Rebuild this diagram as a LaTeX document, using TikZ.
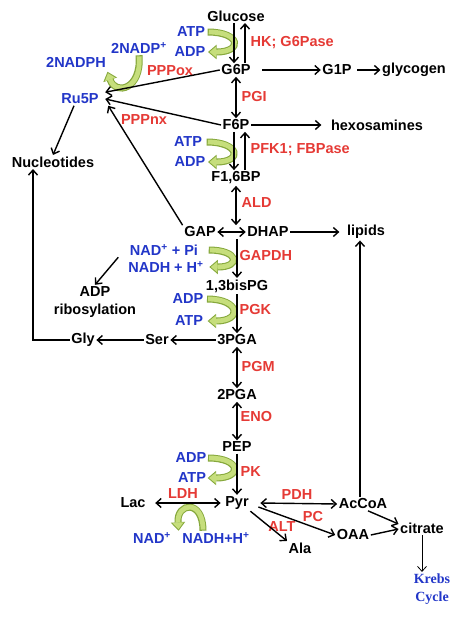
\documentclass[tikz,border=0pt]{standalone}
\usepackage{fontspec}
\setmainfont{Liberation Sans}
\newfontfamily\krebsfont{Liberation Serif}
\usepackage{xcolor}
\usetikzlibrary{arrows.meta}
\definecolor{enzred}{HTML}{E53A35}
\definecolor{cofblue}{HTML}{2236C8}
\definecolor{leafgreen}{HTML}{C6DE7C}
\definecolor{leafedge}{HTML}{86A83C}
\tikzset{
  met/.style={font=\bfseries\fontsize{14.5}{18}\selectfont, inner sep=1.5pt},
  enz/.style={met, text=enzred},
  cof/.style={met, text=cofblue},
  flow/.style={line width=1.4pt, ->},
  leafout/.style={draw=leafedge, line width=7pt, -{Triangle[length=8.5pt,width=14.5pt,line width=0pt]}},
  leafin/.style={draw=leafgreen, line width=4.8pt, shorten <=1.1pt, shorten >=1.5pt, -{Triangle[length=6.6pt,width=11pt,line width=0pt]}},
}
\newcommand{\leafarrow}[1]{\draw[leafout] #1; \draw[leafin] #1;}

\begin{document}
\begin{tikzpicture}[x=1pt, y=-1pt, >={Straight Barb[length=5pt,width=9pt]}]
\useasboundingbox (0,0) rectangle (468,626);

\node[met] (glucose) at (236,16) {Glucose};
\node[met] (g6p) at (236,70) {G6P};
\node[met] (g1p) at (337,70) {G1P};
\node[met] (glycogen) at (414,70) {glycogen};
\node[met] (f6p) at (236,125) {F6P};
\node[met] (hexos) at (377,125) {hexosamines};
\node[met] (f16bp) at (236,178) {F1,6BP};
\node[met] (gap) at (200,232) {GAP};
\node[met] (dhap) at (268,232) {DHAP};
\node[met] (lipids) at (366,232) {lipids};
\node[met] (bpg) at (237,286) {1,3bisPG};
\node[met] (pga3) at (237,340) {3PGA};
\node[met] (ser) at (157,340) {Ser};
\node[met] (gly) at (83,340) {Gly};
\node[met] (pga2) at (237,395) {2PGA};
\node[met] (pep) at (237,447) {PEP};
\node[met] (pyr) at (237,503) {Pyr};
\node[met] (lac) at (133,503) {Lac};
\node[met] (accoa) at (363,504) {AcCoA};
\node[met] (oaa) at (353,535) {OAA};
\node[met] (citrate) at (422,528) {citrate};
\node[met] (ala) at (300,548) {Ala};
\node[met] (nucl) at (53,162) {Nucleotides};
\node[met, align=center] (adprib) at (95,302) {ADP\\ribosylation};
\node[cof] (ru5p) at (80,99) {Ru5P};
\node[font=\krebsfont\bfseries\fontsize{14}{18}\selectfont, text=cofblue, align=center, inner sep=1.5pt] (krebs) at (432,589) {Krebs\\Cycle};

\node[cof] (atp1) at (191,32) {ATP};
\node[cof] (adp1) at (190,52) {ADP};
\node[cof] (nadp) at (139,48) {2NADP\textsuperscript{+}};
\node[cof] (nadph) at (76,62) {2NADPH};
\node[cof] (atp2) at (188,142) {ATP};
\node[cof] (adp2) at (190,162) {ADP};
\node[cof] (nadpi) at (164,250) {NAD\textsuperscript{+} + Pi};
\node[cof] (nadh) at (166,267) {NADH + H\textsuperscript{+}};
\node[cof] (adp3) at (188,299) {ADP};
\node[cof] (atp3) at (189,321) {ATP};
\node[cof] (adp4) at (191,458) {ADP};
\node[cof] (atp4) at (192,478) {ATP};
\node[cof] (nad) at (152,538) {NAD\textsuperscript{+}};
\node[cof] (nadhh) at (216,538) {NADH+H\textsuperscript{+}};

\node[enz, anchor=west] (hk) at (249,43) {HK; G6Pase};
\node[enz, anchor=west] (pgi) at (240,97) {PGI};
\node[enz] (pppox) at (170,71) {PPPox};
\node[enz] (pppnx) at (144,120) {PPPnx};
\node[enz, anchor=west] (pfk) at (249,150) {PFK1; FBPase};
\node[enz, anchor=west] (ald) at (240,203) {ALD};
\node[enz, anchor=west] (gapdh) at (238,256) {GAPDH};
\node[enz, anchor=west] (pgk) at (238,310) {PGK};
\node[enz, anchor=west] (pgm) at (240,367) {PGM};
\node[enz, anchor=west] (eno) at (239,417) {ENO};
\node[enz, anchor=west] (pk) at (239,472) {PK};
\node[enz] (ldh) at (183,494) {LDH};
\node[enz] (pdh) at (297,495) {PDH};
\node[enz] (pc) at (313,517) {PC};
\node[enz] (alt) at (282,527) {ALT};

\leafarrow{([xshift=1pt]atp1.east) .. controls +(33,0) and +(35,0) .. ([xshift=1pt]adp1.east)}
\leafarrow{([xshift=3pt]atp2.east) .. controls +(33,0) and +(35,0) .. ([xshift=1pt]adp2.east)}
\leafarrow{([xshift=9pt]nadpi.east) .. controls +(30,0) and +(32,0) .. ([xshift=4pt]nadh.east)}
\leafarrow{([xshift=2pt]adp3.east) .. controls +(33,0) and +(35,0) .. ([xshift=3pt]atp3.east)}
\leafarrow{([xshift=0pt]adp4.east) .. controls +(33,0) and +(35,0) .. ([xshift=0pt]atp4.east)}
\leafarrow{(nadp.south) .. controls +(3,34) and +(8,24) .. ([yshift=-3pt]nadph.south east)}
\leafarrow{([xshift=-13pt]nadhh.north) .. controls +(0,-32) and +(-2,-28) .. ([xshift=6pt]nad.north east)}

\draw[flow] ([xshift=-2pt]glucose.south) -- ([xshift=-2pt]g6p.north);
\draw[flow] ([xshift=9pt]g6p.north) -- ([xshift=9pt]glucose.south);
\draw[flow] ([xshift=10pt]g6p.east) -- (g1p.west);
\draw[flow] ([xshift=4pt]g1p.east) -- (glycogen.west);
\draw[flow, <->] (g6p.south) -- (f6p.north);
\draw[flow] (f6p.east) -- ([xshift=-8pt]hexos.west);
\draw[flow] ([xshift=-2pt]f6p.south) -- ([xshift=-2pt]f6p.south |- f16bp.north);
\draw[flow] ([xshift=9pt]f6p.south |- f16bp.north) -- ([xshift=9pt]f6p.south);
\draw[flow, <->] (f16bp.south) -- (f16bp.south |- gap.north);
\draw[flow, <->] (gap.east) -- (dhap.west);
\draw[flow] (dhap.east) -- ([xshift=-6pt]lipids.west);
\draw[flow] (bpg.north |- gap.south) -- (bpg.north);
\draw[flow] (bpg.south) -- (pga3.north);
\draw[flow] (pga3.west) -- (ser.east);
\draw[flow] (ser.west) -- (gly.east);
\draw[flow] (gly.west) -| ([xshift=-20pt]nucl.south);
\draw[flow, <->] (pga3.south) -- (pga2.north);
\draw[flow, <->] (pga2.south) -- (pep.north);
\draw[flow] (pep.south) -- (pyr.north);
\draw[flow, <->] ([xshift=8pt]lac.east) -- ([xshift=-3pt]pyr.west);
\draw[flow, <->] ([xshift=10pt]pyr.east) -- (accoa.west);
\draw[flow] ([xshift=8pt,yshift=-4pt]pyr.east) -- (oaa.west);
\draw[flow] (pyr.south east) -- (ala.north west);
\draw[flow] ([xshift=5pt]accoa.south) -- ([yshift=4pt]citrate.west);
\draw[flow] (oaa.east) -- ([yshift=-1pt]citrate.west);
\draw[flow, line width=0.8pt] (citrate.south) -- (citrate.south |- krebs.north);
\draw[flow] ([xshift=-3pt]accoa.north) -- ([xshift=-3pt]accoa.north |- lipids.south);
\draw[flow] (g6p.west) -- ([xshift=5pt]ru5p.north east);
\draw[flow] (f6p.west) -- ([xshift=5pt]ru5p.east);
\draw[flow] (gap.north west) -- ([xshift=8pt]ru5p.south east);
\draw[flow] ([xshift=-6pt]ru5p.south) -- (nucl.north);
\draw[flow] ([xshift=-10pt]nadpi.south west) -- (adprib.north);
\end{tikzpicture}
\end{document}
